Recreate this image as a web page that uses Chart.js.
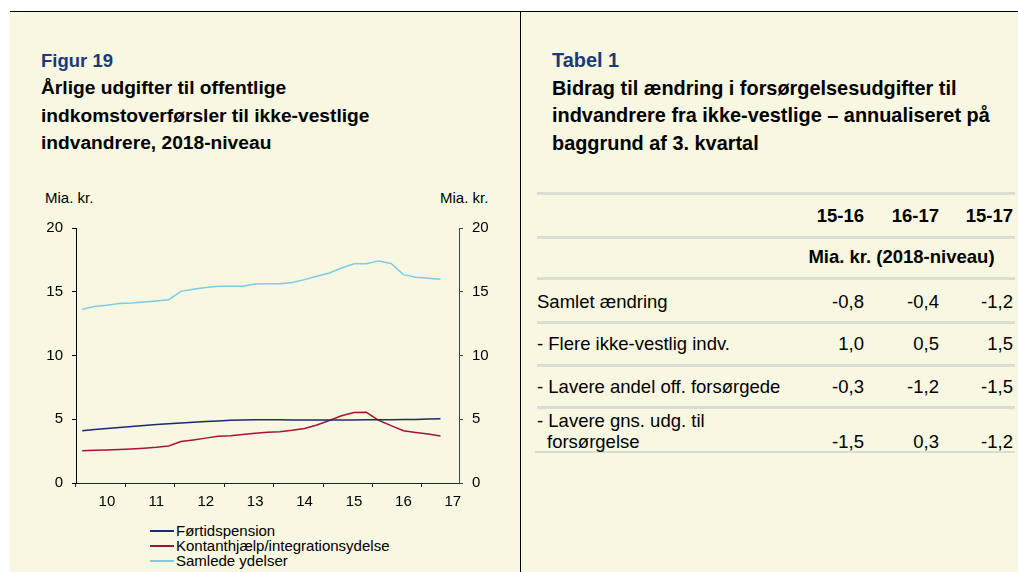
<!DOCTYPE html>
<html lang="da">
<head>
<meta charset="UTF-8">
<title>Figur 19 og Tabel 1</title>
<script src="https://cdn.jsdelivr.net/npm/chart.js"></script>
<style>
    body {
        margin: 0;
        width: 1018px;
        height: 572px;
        background: #fff;
        font-family: "Liberation Sans", Arial, sans-serif;
        position: relative;
        overflow: hidden;
    }
    .panel {
        position: absolute;
        left: 10px;
        top: 11px;
        width: 1008px;
        height: 561px;
        background: #f8f7e1;
        border-top: 1px solid #000;
    }
    .divider {
        position: absolute;
        left: 520px;
        top: 11px;
        width: 1px;
        height: 561px;
        background: #000;
    }
    .abs { position: absolute; white-space: nowrap; }
    .fig-no {
        font-size: 18.5px;
        font-weight: bold;
        color: #1b3a78;
        line-height: 27.5px;
    }
    .heading {
        font-size: 19.2px;
        font-weight: bold;
        color: #000;
        line-height: 27.5px;
    }
    .right .fig-no, .right .heading { font-size: 19.9px; }
    .unit { font-size: 15px; line-height: 17px; color: #000; }
    #chartBox {
        position: absolute;
        left: 16px;
        top: 210px;
        width: 484px;
        height: 300px;
    }
    #legend {
        position: absolute;
        left: 150px;
        top: 523px;
        font-size: 15px;
    }
    .leg-row { height: 15px; line-height: 15px; position: relative; white-space: nowrap; }
    .leg-line { position: absolute; left: 0; top: 7px; width: 24px; height: 1.5px; }
    .leg-text { position: absolute; left: 26px; top: 0; }
    .rule {
        position: absolute;
        left: 537px;
        width: 478px;
        height: 3px;
        background: #dcdcd4;
    }
    .cell { position: absolute; font-size: 18.5px; line-height: 21px; color: #000; white-space: nowrap; }
    .num { text-align: right; width: 80px; }
    .b { font-weight: bold; }
</style>
</head>
<body>
<div class="panel"></div>
<div class="divider"></div>

<!-- venstre: figur -->
<div class="abs fig-no" style="left:41px; top:47px;">Figur 19</div>
<div class="abs heading" style="left:41px; top:74px;">Årlige udgifter til offentlige<br>indkomstoverførsler til ikke-vestlige<br>indvandrere, 2018-niveau</div>
<div class="abs unit" style="left:45px; top:189px;">Mia. kr.</div>
<div class="abs unit" style="left:440px; top:189px;">Mia. kr.</div>
<div id="chartBox"><canvas id="myChart"></canvas></div>
<div id="legend"></div>

<!-- højre: tabel -->
<div class="right">
<div class="abs fig-no" style="left:552px; top:47px;">Tabel 1</div>
<div class="abs heading" style="left:552px; top:74.5px;">Bidrag til ændring i forsørgelsesudgifter til<br>indvandrere fra ikke-vestlige – annualiseret på<br>baggrund af 3. kvartal</div>
</div>
<div id="table"></div>

<script>
    // kvartaler 2010K1 - 2017K3 (sidste kvartal uden observation)
    const quarters = ['10K1','10K2','10K3','10K4','11K1','11K2','11K3','11K4',
                      '12K1','12K2','12K3','12K4','13K1','13K2','13K3','13K4',
                      '14K1','14K2','14K3','14K4','15K1','15K2','15K3','15K4',
                      '16K1','16K2','16K3','16K4','17K1','17K2','17K3'];
    const yearLabels = ['10','11','12','13','14','15','16','17'];
    const yTicks = [0, 5, 10, 15, 20];

    const fortidspension = [4.10, 4.19, 4.28, 4.36, 4.44, 4.51, 4.58, 4.65, 4.71, 4.77,
                            4.82, 4.87, 4.92, 4.95, 4.96, 4.96, 4.96, 4.95, 4.95, 4.95,
                            4.95, 4.95, 4.95, 4.96, 4.96, 4.97, 4.98, 4.99, 5.01, 5.03];
    const kontanthjaelp = [2.53, 2.56, 2.59, 2.62, 2.66, 2.72, 2.80, 2.91, 3.25, 3.38,
                           3.52, 3.66, 3.70, 3.80, 3.90, 3.98, 4.02, 4.13, 4.27, 4.55,
                           4.90, 5.28, 5.52, 5.54, 4.92, 4.50, 4.10, 3.97, 3.84, 3.69];
    const samlede = [13.63, 13.84, 13.94, 14.07, 14.12, 14.20, 14.28, 14.38, 15.03, 15.20,
                     15.33, 15.44, 15.44, 15.44, 15.60, 15.62, 15.62, 15.72, 15.95, 16.21,
                     16.47, 16.86, 17.19, 17.19, 17.42, 17.22, 16.34, 16.13, 16.06, 15.98];

    // tabel 1
    const tableCols = ['15-16', '16-17', '15-17'];
    const tableUnit = 'Mia. kr. (2018-niveau)';
    const tableRows = ['Samlet ændring', '- Flere ikke-vestlig indv.', '- Lavere andel off. forsørgede', '- Lavere gns. udg. til'];
    const tableVals = [['-0,8', '-0,4', '-1,2'],
                       ['1,0', '0,5', '1,5'],
                       ['-0,3', '-1,2', '-1,5'],
                       ['-1,5', '0,3', '-1,2']];

    const font = { family: 'Liberation Sans', size: 15 };

    const yAxis = (pos, borderColor, w) => ({
        position: pos,
        min: 0,
        max: 20,
        afterBuildTicks: s => { s.ticks = yTicks.map(v => ({ value: v })); },
        grid: { drawOnChartArea: false, drawTicks: true, tickLength: 4, tickColor: borderColor },
        border: { display: true, color: borderColor, width: 1 },
        ticks: { padding: 9, color: '#000', font: font },
        afterFit: s => { s.width = w; }
    });

    const ctx = document.getElementById('myChart').getContext('2d');
    const myChart = new Chart(ctx, {
        type: 'line',
        data: {
            labels: quarters,
            datasets: [
                { label: 'Førtidspension', data: fortidspension, borderColor: '#1a2b6e', borderWidth: 1.5 },
                { label: 'Kontanthjælp/integrationsydelse', data: kontanthjaelp, borderColor: '#a5123c', borderWidth: 1.5 },
                { label: 'Samlede ydelser', data: samlede, borderColor: '#7ccbe9', borderWidth: 1.5 }
            ]
        },
        options: {
            responsive: true,
            maintainAspectRatio: false,
            animation: false,
            layout: { padding: { top: 14, left: 0, right: 0, bottom: 0 } },
            elements: { point: { radius: 0 }, line: { tension: 0 } },
            plugins: { legend: { display: false }, tooltip: { enabled: false } },
            scales: {
                x: {
                    type: 'category',
                    offset: true,
                    grid: {
                        offset: true,
                        drawOnChartArea: false,
                        drawTicks: true,
                        tickLength: 4,
                        // kun streg ved årsskift
                        tickColor: c => (c.index !== undefined && c.index % 4 === 0) ? '#222' : 'rgba(0,0,0,0)'
                    },
                    border: { display: true, color: '#222', width: 1 },
                    ticks: {
                        autoSkip: false,
                        maxRotation: 0,
                        padding: 6,
                        color: '#000',
                        font: font,
                        callback: (v, i) => i % 4 === 2 ? yearLabels[Math.floor(i / 4)] : ''
                    },
                    afterFit: s => { s.height = 27; }
                },
                y: yAxis('left', '#000', 60),
                y2: yAxis('right', '#444', 41)
            }
        }
    });

    // legende under figuren
    var legend = document.getElementById('legend');
    myChart.data.datasets.forEach(function (ds) {
        var row = document.createElement('div');
        row.className = 'leg-row';
        row.innerHTML = '<span class="leg-line" style="background:' + ds.borderColor + '"></span>' +
                        '<span class="leg-text">' + ds.label + '</span>';
        legend.appendChild(row);
    });

    // tabellen
    var tbl = document.getElementById('table');
    function add(html) { tbl.insertAdjacentHTML('beforeend', html); }
    var ruleY = [192, 236, 277, 321, 364, 406];
    ruleY.forEach(function (y) { add('<div class="rule" style="top:' + y + 'px"></div>'); });
    add('<div class="rule" style="top:451px; left:535px; width:480px; height:2px"></div>');
    var colRight = [864, 939, 1013];
    tableCols.forEach(function (c, j) {
        add('<div class="cell num b" style="top:205px; left:' + (colRight[j] - 80) + 'px">' + c + '</div>');
    });
    add('<div class="cell b" style="top:246px; left:790px; width:223px; text-align:center">' + tableUnit + '</div>');
    var rowBase = [308.3, 350, 392.7, 447.7];
    tableRows.forEach(function (r, i) {
        var top = (i === 3 ? 426.7 : rowBase[i]) - 17;
        add('<div class="cell" style="top:' + top + 'px; left:537px">' + r + '</div>');
        tableVals[i].forEach(function (v, j) {
            add('<div class="cell num" style="top:' + (rowBase[i] - 17) + 'px; left:' + (colRight[j] - 80) + 'px">' + v + '</div>');
        });
    });
    add('<div class="cell" style="top:' + (447.7 - 17) + 'px; left:547px">forsørgelse</div>');
</script>
</body>
</html>
